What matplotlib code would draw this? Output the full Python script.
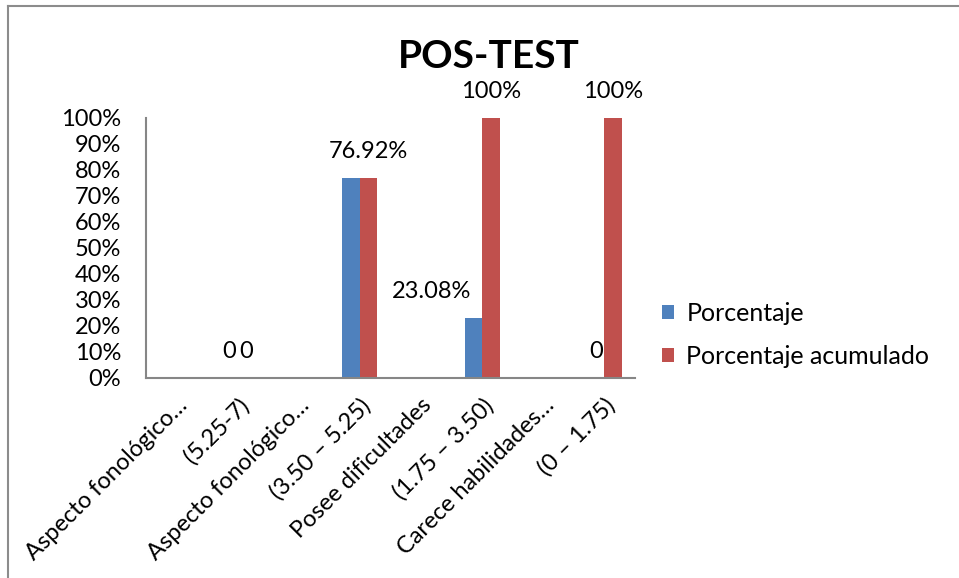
import matplotlib.pyplot as plt
import numpy as np
from matplotlib.lines import Line2D

plt.rcParams['font.family'] = ['Lato', 'DejaVu Sans']

# ========== 数据 ==========
categorias = ["Aspecto fonológico…", "(5.25-7)", "Aspecto fonológico…", "(3.50 – 5.25)",
              "Posee dificultades", "(1.75 – 3.50)", "Carece habilidades…", "(0 – 1.75)"]
porcentaje = [np.nan, 0, np.nan, 76.92, np.nan, 23.08, np.nan, 0]
acumulado = [np.nan, 0, np.nan, 76.92, np.nan, 100, np.nan, 100]

# 标签文字 (None = 不显示)
etiquetas_porc = [None, "0", None, None, None, "23.08%", None, "0"]
etiquetas_acum = [None, "0", None, "76.92%", None, "100%", None, "100%"]

azul = "#4F81BD"
rojo = "#C0504D"

# ========== 画图 ==========
fig = plt.figure(figsize=(9.59, 5.78), dpi=100)
ax = fig.add_axes([146/959, 1-378/578, (635-146)/959, (378-118)/578])

x = np.arange(len(categorias))
w = 0.286
b1 = ax.bar(x - w/2, porcentaje, w, color=azul, label="Porcentaje")
b2 = ax.bar(x + w/2, acumulado, w, color=rojo, label="Porcentaje acumulado")

fs = 17
for i in range(len(x)):
    if etiquetas_porc[i]:
        dx = -30 if etiquetas_porc[i] == "23.08%" else 0
        ax.annotate(etiquetas_porc[i], (x[i] - w/2, porcentaje[i]), xytext=(dx, 19),
                    textcoords="offset points", ha="center", va="center", fontsize=fs)
    if etiquetas_acum[i]:
        ax.annotate(etiquetas_acum[i], (x[i] + w/2, acumulado[i]), xytext=(0, 19),
                    textcoords="offset points", ha="center", va="center", fontsize=fs)

ax.set_xlim(-0.5, len(x) - 0.5)
ax.set_ylim(0, 100)
ax.set_yticks(np.arange(0, 101, 10))
ax.set_yticklabels([f"{v}%" for v in range(0, 101, 10)], fontsize=fs)
ax.set_xticks(x)
ax.set_xticklabels(categorias, fontsize=fs, rotation=45, ha="right", rotation_mode="anchor")
ax.tick_params(axis="y", length=0, pad=18)
ax.tick_params(axis="x", length=0, pad=12)

for s in ["top", "right"]:
    ax.spines[s].set_visible(False)
for s in ["left", "bottom"]:
    ax.spines[s].set_color("#868686")
    ax.spines[s].set_linewidth(1.5)

fig.text(489/959, 1-57/578, "POS-TEST", ha="center", va="center", fontsize=28, fontweight="bold")

fig.legend(loc="center left", bbox_to_anchor=(639/959, 1-335/578), frameon=False, fontsize=18,
           handlelength=0.5, handleheight=0.5, handletextpad=0.5, labelspacing=0.8)

# 外框
fig.add_artist(Line2D([8/959, 1], [1-6/578, 1-6/578], color="#8c8c8c", lw=1.5, transform=fig.transFigure))
fig.add_artist(Line2D([8/959, 8/959], [0, 1-6/578], color="#8c8c8c", lw=1.5, transform=fig.transFigure))

fig.savefig("out.png", dpi=100)
